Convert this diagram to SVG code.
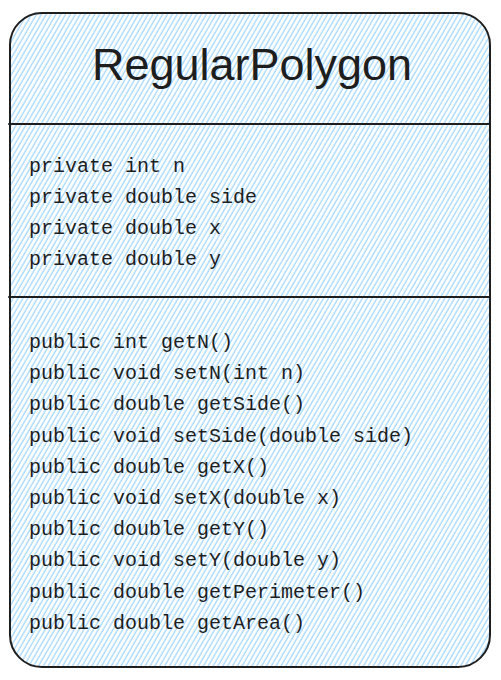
<svg xmlns="http://www.w3.org/2000/svg" width="501" height="680" viewBox="0 0 501 680">
<style>
.outline{fill:none;stroke:#1e1e1e;stroke-width:2;stroke-linecap:round;stroke-linejoin:round}
.title{font-family:"Liberation Sans",Arial,sans-serif;font-size:45px;fill:#1e1e1e;text-anchor:middle}
.row{font-family:"Liberation Mono","Courier New",monospace;font-size:20px;fill:#1e1e1e}
</style>
<defs>
<pattern id="hachure" width="4.2" height="10" patternUnits="userSpaceOnUse" patternTransform="rotate(30)">
<line x1="1" y1="-1" x2="1" y2="11" stroke="#a5d8ff" stroke-width="1.3"/>
</pattern>
</defs>
<rect width="501" height="680" fill="#ffffff"/>
<g id="class-RegularPolygon">
<rect x="10" y="13" width="480" height="654" rx="32" ry="32" fill="url(#hachure)"/>
<rect class="outline" x="10" y="13" width="480" height="654" rx="32" ry="32"/>
<line class="outline" x1="9" y1="124" x2="490" y2="124"/>
<line class="outline" x1="9" y1="297" x2="490" y2="297"/>
<text class="title" x="252" y="80">RegularPolygon</text>
</g>
<g id="attributes">
<text class="row" x="29" y="171.7">private int n</text>
<text class="row" x="29" y="202.9">private double side</text>
<text class="row" x="29" y="234.1">private double x</text>
<text class="row" x="29" y="265.3">private double y</text>
</g>
<g id="methods">
<text class="row" x="29" y="348">public int getN()</text>
<text class="row" x="29" y="379.2">public void setN(int n)</text>
<text class="row" x="29" y="410.4">public double getSide()</text>
<text class="row" x="29" y="441.6">public void setSide(double side)</text>
<text class="row" x="29" y="472.8">public double getX()</text>
<text class="row" x="29" y="504">public void setX(double x)</text>
<text class="row" x="29" y="535.2">public double getY()</text>
<text class="row" x="29" y="566.4">public void setY(double y)</text>
<text class="row" x="29" y="597.6">public double getPerimeter()</text>
<text class="row" x="29" y="628.8">public double getArea()</text>
</g>
<g id="connectors"/>
</svg>
